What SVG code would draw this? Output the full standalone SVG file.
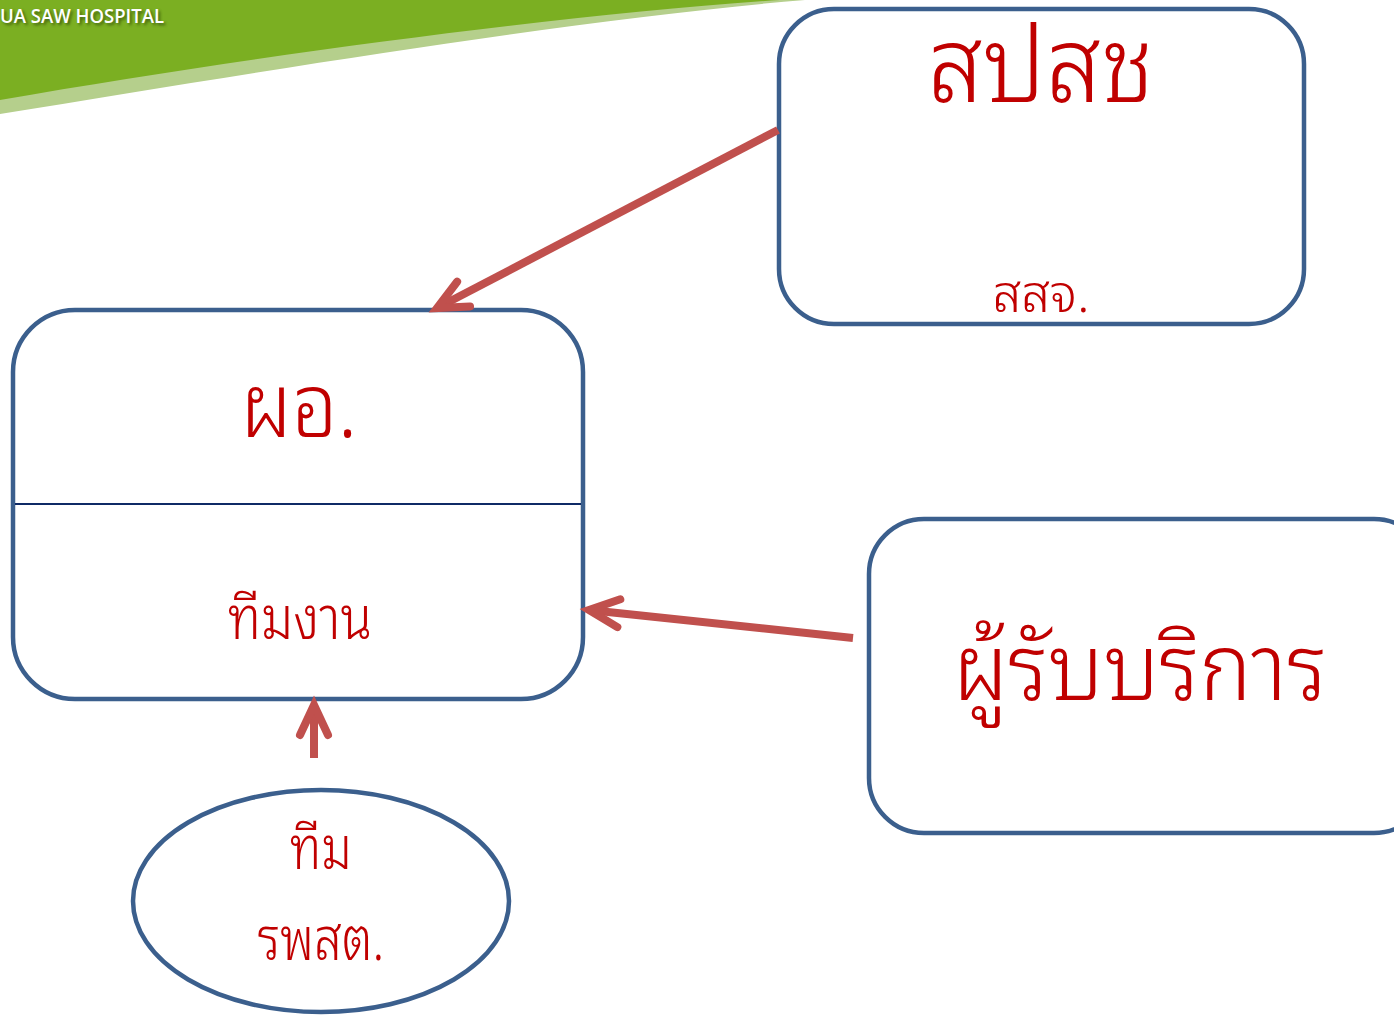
<svg xmlns="http://www.w3.org/2000/svg" width="1394" height="1015" viewBox="0 0 1394 1015">
<style>
.box{fill:#fff;stroke:#3B5F8D;stroke-width:4.5}
.lbl{fill:#C00000;font-family:"Noto Sans Thai Looped","DejaVu Sans","Noto Sans",sans-serif;font-weight:300;text-anchor:middle}
.conn{stroke:#C0504D;stroke-width:8;fill:none;stroke-linecap:butt}
.head{stroke:#C0504D;stroke-width:8;fill:none;stroke-linecap:round;stroke-linejoin:miter}
.brand{font-family:"Open Sans","DejaVu Sans",sans-serif;font-size:19px;font-weight:600}
</style>
<defs>
<marker id="arr" markerUnits="userSpaceOnUse" viewBox="-40 -25 50 50" refX="0" refY="0" markerWidth="50" markerHeight="50" orient="auto" overflow="visible">
<path class="head" d="M -30 -14 L 0 0 L -30 14"/>
</marker>
<filter id="sh" x="-10%" y="-50%" width="120%" height="200%">
<feGaussianBlur stdDeviation="1.5"/>
</filter>
</defs>
<rect width="1394" height="1015" fill="#fff"/>
<g id="banner">
<path d="M0 0 L805 0 C585 18 270 70 0 114 Z" fill="#B5CF8C"/>
<path d="M0 0 L780 0 C560 15 260 55 0 100 Z" fill="#7BAF22"/>
<text class="brand" x="2" y="25" fill="#2f4a08" opacity="0.8" filter="url(#sh)" textLength="164" lengthAdjust="spacingAndGlyphs">UA SAW HOSPITAL</text>
<text class="brand" x="0" y="23" fill="#fff" textLength="164" lengthAdjust="spacingAndGlyphs">UA SAW HOSPITAL</text>
</g>
<g id="node-nhso">
<rect class="box" x="779" y="9" width="525" height="315" rx="55"/>
<text class="lbl" x="1041" y="102" font-size="105" textLength="227" lengthAdjust="spacingAndGlyphs">สปสช</text>
<text class="lbl" x="1041" y="312" font-size="52" textLength="97" lengthAdjust="spacingAndGlyphs">สสจ.</text>
</g>
<g id="node-director">
<rect class="box" x="13" y="310" width="570" height="389" rx="62"/>
<line x1="15" y1="504" x2="581" y2="504" stroke="#0F2A66" stroke-width="2"/>
<text class="lbl" x="299" y="437" font-size="88" textLength="117" lengthAdjust="spacingAndGlyphs">ผอ.</text>
<text class="lbl" x="300" y="639" font-size="60" textLength="144" lengthAdjust="spacingAndGlyphs">ทีมงาน</text>
</g>
<g id="node-clients">
<rect class="box" x="869" y="519" width="560" height="314" rx="55"/>
<text class="lbl" x="1140" y="700" font-size="92" textLength="374" lengthAdjust="spacingAndGlyphs">ผู้รับบริการ</text>
</g>
<g id="node-team">
<ellipse class="box" cx="321" cy="901" rx="188" ry="111"/>
<text class="lbl" x="321" y="869" font-size="60" textLength="62" lengthAdjust="spacingAndGlyphs">ทีม</text>
<text class="lbl" x="321" y="960" font-size="60" textLength="127" lengthAdjust="spacingAndGlyphs">รพสต.</text>
</g>
<g id="connectors">
<line class="conn" x1="778" y1="130" x2="437" y2="308" marker-end="url(#arr)"/>
<line class="conn" x1="853" y1="638" x2="589" y2="610" marker-end="url(#arr)"/>
<line class="conn" x1="314" y1="758" x2="314" y2="705" marker-end="url(#arr)"/>
</g>
</svg>
